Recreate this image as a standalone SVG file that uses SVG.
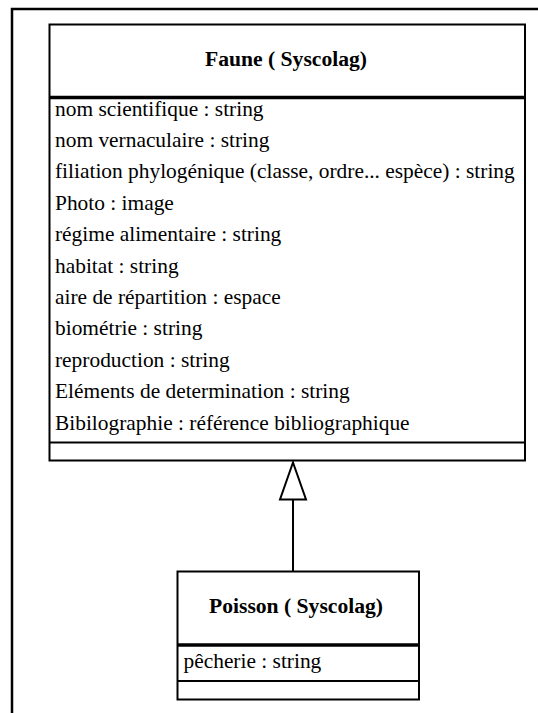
<svg xmlns="http://www.w3.org/2000/svg" width="538" height="713" viewBox="0 0 538 713">
<style>
.box{fill:#fff;stroke:#000;stroke-width:2}
.sep{stroke:#000;stroke-width:2}
.hsep{stroke:#000;stroke-width:3.5}
.title{font-family:'Liberation Serif',Tinos,'Times New Roman','DejaVu Serif',serif;font-size:21.6px;font-weight:bold;text-anchor:middle;fill:#000}
.attr{font-family:'Liberation Serif',Tinos,'Times New Roman','DejaVu Serif',serif;font-size:21.4px;fill:#000}
.conn{stroke:#000;stroke-width:2;fill:none}
.head{fill:#fff;stroke:#000;stroke-width:2}
</style>
<rect width="538" height="713" fill="#fff"/>
<path d="M12,720 V9 H545" fill="none" stroke="#000" stroke-width="2.5"/>
<g id="faune">
<rect class="box" x="49.5" y="24.5" width="475.5" height="436"/>
<line class="hsep" x1="49.5" y1="97.5" x2="525" y2="97.5"/>
<line class="sep" x1="49.5" y1="442.5" x2="525" y2="442.5"/>
<text class="title" x="286" y="65.5">Faune ( Syscolag)</text>
<text class="attr" x="55" y="115.5">nom scientifique  : string</text>
<text class="attr" x="55" y="146.9">nom vernaculaire : string</text>
<text class="attr" x="55" y="178.3">filiation phylogénique (classe, ordre... espèce) : string</text>
<text class="attr" x="55" y="209.7">Photo : image</text>
<text class="attr" x="55" y="241.1">régime alimentaire : string</text>
<text class="attr" x="55" y="272.5">habitat : string</text>
<text class="attr" x="55" y="303.9">aire de répartition : espace</text>
<text class="attr" x="55" y="335.3">biométrie : string</text>
<text class="attr" x="55" y="366.7">reproduction : string</text>
<text class="attr" x="55" y="398.1">Eléments de determination : string</text>
<text class="attr" x="55" y="429.5">Bibilographie : référence bibliographique</text>
</g>
<g id="poisson">
<rect class="box" x="177.5" y="571.5" width="241.5" height="128"/>
<line class="hsep" x1="177.5" y1="645" x2="419" y2="645"/>
<line class="sep" x1="177.5" y1="681" x2="419" y2="681"/>
<text class="title" x="296" y="613">Poisson ( Syscolag)</text>
<text class="attr" x="183.5" y="667.5">pêcherie : string</text>
</g>
<g id="connectors">
<line class="conn" x1="293" y1="571.5" x2="293" y2="499.5"/>
<polygon class="head" points="293,462.5 306,499.5 280,499.5"/>
</g>
</svg>
